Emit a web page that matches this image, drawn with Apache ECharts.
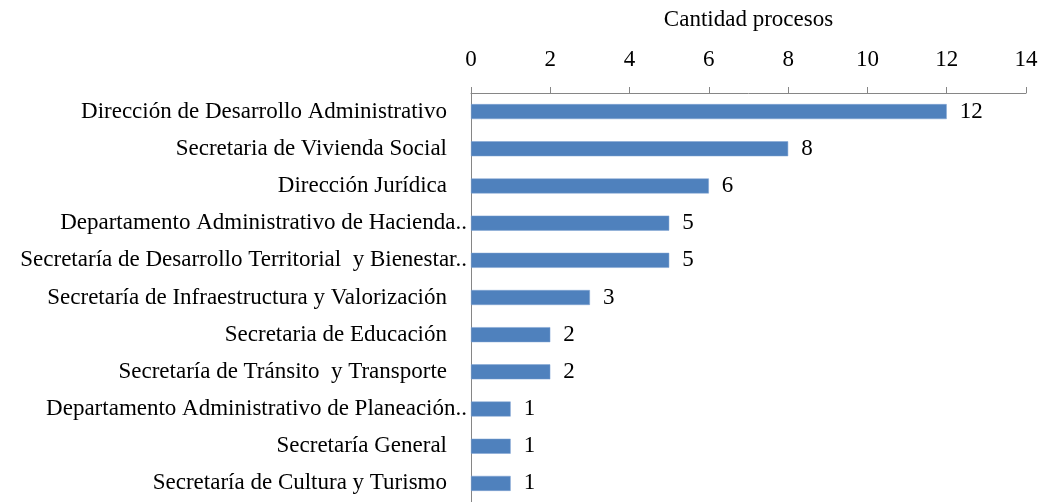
<!DOCTYPE html>
<html>
<head>
<meta charset="utf-8">
<script src="https://cdn.jsdelivr.net/npm/echarts@6/dist/echarts.min.js"></script>
<style>
  html, body { margin: 0; padding: 0; background: #fff; }
  #chart { width: 1043px; height: 502px; }
</style>
</head>
<body>
<div id="chart"></div>
<script>
const categories = [
  'Dirección de Desarrollo Administrativo',
  'Secretaria de Vivienda Social',
  'Dirección Jurídica',
  'Departamento Administrativo de Hacienda..',
  'Secretaría de Desarrollo Territorial  y Bienestar..',
  'Secretaría de Infraestructura y Valorización',
  'Secretaria de Educación',
  'Secretaría de Tránsito  y Transporte',
  'Departamento Administrativo de Planeación..',
  'Secretaría General',
  'Secretaría de Cultura y Turismo'
];
const procesos = [12, 8, 6, 5, 5, 3, 2, 2, 1, 1, 1];
const axisName = 'Cantidad procesos';

const font = '"Liberation Serif", "Times New Roman", serif';
const fs = 23;
const chart = echarts.init(document.getElementById('chart'));

chart.setOption({
  animation: false,
  grid: { left: 471, right: 17, top: 93, height: 412 },
  xAxis: {
    type: 'value',
    position: 'top',
    min: 0,
    max: 14,
    interval: 2,
    name: axisName,
    nameLocation: 'middle',
    nameGap: 62,
    nameTextStyle: { fontFamily: font, fontSize: fs, color: '#000' },
    axisLine: { show: true, lineStyle: { color: '#868686', width: 1 } },
    axisTick: { show: true, length: 6, lineStyle: { color: '#868686' } },
    axisLabel: { fontFamily: font, fontSize: fs, color: '#000', margin: 22 },
    splitLine: { show: false }
  },
  yAxis: {
    type: 'category',
    inverse: true,
    data: categories,
    axisLine: { show: true, lineStyle: { color: '#868686', width: 1 } },
    axisTick: { show: false },
    axisLabel: {
      fontFamily: font, fontSize: fs, color: '#000', margin: 4,
      formatter: name => name.endsWith('..') ? name : '{p|' + name + '}',
      rich: { p: { fontFamily: font, fontSize: fs, color: '#000', padding: [0, 20, 0, 0] } }
    }
  },
  series: [{
    type: 'bar',
    data: procesos,
    barWidth: 15,
    itemStyle: { color: '#4F81BD', borderColor: '#7ea3d3', borderWidth: 0.5 },
    label: {
      show: true,
      position: 'right',
      distance: 13,
      fontFamily: font,
      fontSize: fs,
      color: '#000'
    }
  }]
});
</script>
</body>
</html>
